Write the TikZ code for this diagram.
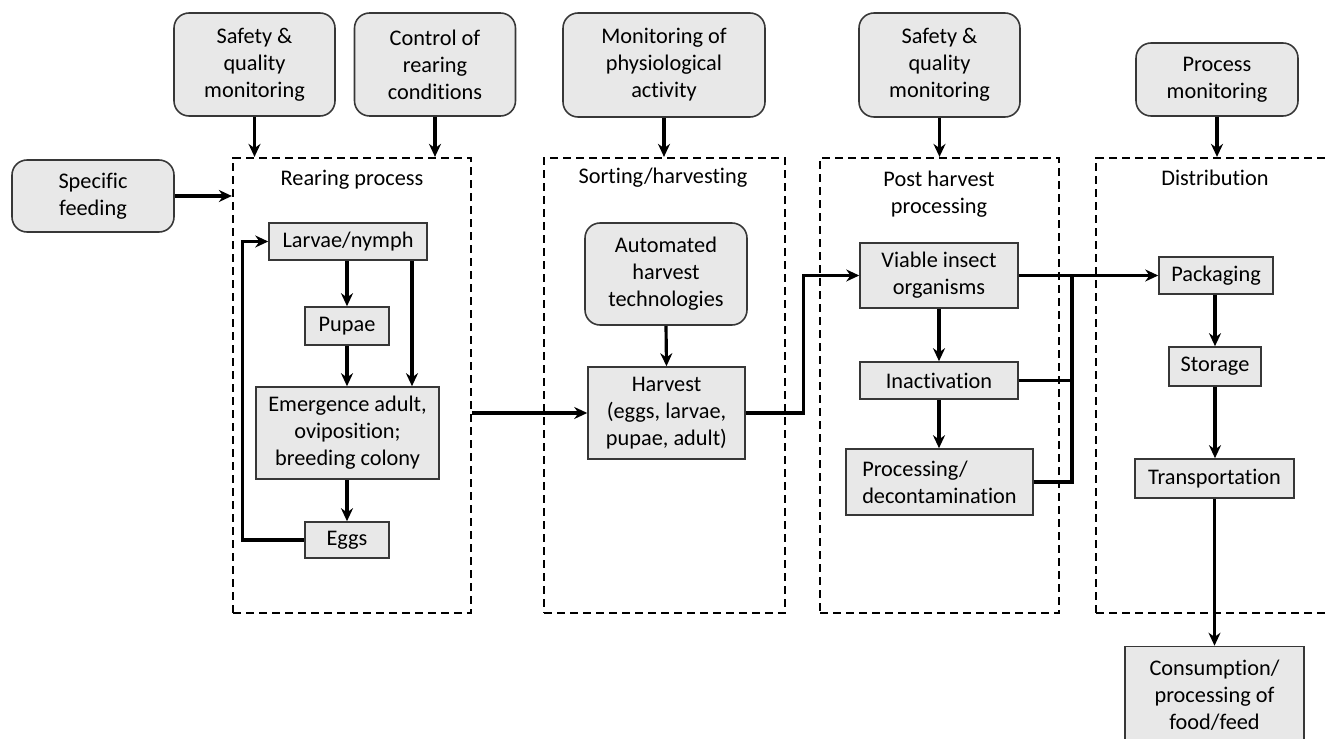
\documentclass[tikz,border=0pt]{standalone}
\usepackage{fontspec}
\setmainfont{Carlito}[Ligatures=NoCommon]
\usepackage{tikz}
\usetikzlibrary{arrows.meta, positioning}
\tikzset{>={Stealth[length=2.6mm,width=2.4mm]}}
\definecolor{boxfill}{RGB}{232,232,232}
\definecolor{boxline}{RGB}{55,55,55}
\tikzset{
	monbox/.style={draw=boxline, fill=boxfill, rounded corners=0.3cm, align=center, inner sep=0pt, line width=0.9pt},
	stepbox/.style={draw=boxline, fill=boxfill, align=center, inner sep=0pt, line width=0.9pt},
	phase/.style={draw, dash pattern=on 0.16cm off 0.1cm, line width=1.3pt, inner sep=0pt},
	flow/.style={->, line width=1.8pt},
}

\begin{document}
\begin{tikzpicture}[x=0.02cm, y=-0.02cm, font=\fontsize{12.7}{15.4}\selectfont]
					\useasboundingbox (0,0) rectangle (1326,739);
					% phases
					\node[phase, minimum width=4.76cm, minimum height=9.1cm] (rear) at (352,385.5) {};
					\node[phase, minimum width=4.82cm, minimum height=9.1cm] (sort) at (664.5,385.5) {};
					\node[phase, minimum width=4.78cm, minimum height=9.1cm] (post) at (939.5,385.5) {};
					\node[phase, minimum width=5.28cm, minimum height=9.1cm] (dist) at (1228,385.5) {};
					\node (rearlbl) at (352,180) {Rearing process};
					\node (sortlbl) at (663,178) {Sorting/harvesting};
					\node[align=center] (postlbl) at (939,194) {Post harvest\\processing};
					\node (distlbl) at (1215,178) {Distribution};
					% monitoring boxes
					\node[monbox, minimum width=3.22cm, minimum height=2.06cm] (sqma) at (254.5,64.5) {Safety \&\\quality\\monitoring};
					\node[monbox, minimum width=3.22cm, minimum height=2.06cm] (crc) at (435,64.5) {Control of\\rearing\\conditions};
					\node[monbox, minimum width=4.04cm, minimum height=2.08cm] (physio) at (664,65) {Monitoring of\\physiological\\activity};
					\node[monbox, minimum width=3.22cm, minimum height=2.08cm] (sqmb) at (939.5,65) {Safety \&\\quality\\monitoring};
					\node[monbox, minimum width=3.24cm, minimum height=1.46cm] (pmon) at (1217,79.5) {Process\\monitoring};
					\node[monbox, minimum width=3.24cm, minimum height=1.44cm] (feed) at (93,196) {Specific\\feeding};
					% rearing
					\node[stepbox, minimum width=3.16cm, minimum height=0.74cm] (larvae) at (348,241.5) {Larvae/nymph};
					\node[stepbox, minimum width=1.68cm, minimum height=0.76cm] (pupae) at (347,326) {Pupae};
					\node[stepbox, minimum width=3.66cm, minimum height=1.84cm] (emerg) at (347.5,433) {Emergence adult,\\oviposition;\\breeding colony};
					\node[stepbox, minimum width=1.68cm, minimum height=0.72cm] (eggs) at (347,540) {Eggs};
					% sorting
					\node[monbox, minimum width=3.24cm, minimum height=2.04cm] (auto) at (666,274) {Automated\\harvest\\technologies};
					\node[stepbox, minimum width=3.14cm, minimum height=1.84cm] (harvest) at (666.5,413) {Harvest\\(eggs, larvae,\\pupae, adult)};
					% post harvest
					\node[stepbox, minimum width=3.16cm, minimum height=1.3cm] (viable) at (939,275.5) {Viable insect\\organisms};
					\node[stepbox, minimum width=3.16cm, minimum height=0.74cm] (inact) at (939,380.5) {Inactivation};
					\node[stepbox, minimum width=3.74cm, minimum height=1.32cm, align=left] (proc) at (939.5,482) {Processing/\\decontamination};
					% distribution
					\node[stepbox, minimum width=2.28cm, minimum height=0.74cm] (pack) at (1216,275.5) {Packaging};
					\node[stepbox, minimum width=1.84cm, minimum height=0.78cm] (stor) at (1215,366.5) {Storage};
					\node[stepbox, minimum width=3.18cm, minimum height=0.78cm] (trans) at (1214.5,478.5) {Transportation};
					\node[stepbox, minimum width=3.58cm, minimum height=1.94cm] (cons) at (1214.5,695) {Consumption/\\processing of\\food/feed};
					% connectors
					\draw[flow] (sqma.south) -- (sqma.south |- rear.north);
					\draw[flow] (crc.south) -- (crc.south |- rear.north);
					\draw[flow] (physio.south) -- (physio.south |- sort.north);
					\draw[flow] (sqmb.south) -- (sqmb.south |- post.north);
					\draw[flow] (pmon.south) -- (pmon.south |- dist.north);
					\draw[flow] (feed.east) -- (feed.east -| rear.west);
					\draw[flow] (larvae.south -| pupae.north) -- (pupae.north);
					\draw[flow] (pupae.south) -- (pupae.south |- emerg.north);
					\draw[flow] ([xshift=1.28cm]larvae.south) -- ([xshift=1.28cm]larvae.south |- emerg.north);
					\draw[flow] (emerg.south -| eggs.north) -- (eggs.north);
					\draw[flow] (eggs.west) -- ++(-62,0) |- (larvae.west);
					\draw[flow] (rear.east |- harvest.west) -- (harvest.west);
					\draw[flow] (auto.south) -- (harvest.north);
					\draw[flow] (harvest.east) -- ++(58,0) |- (viable.west);
					\draw[flow] (viable.south) -- (inact.north);
					\draw[flow] (inact.south) -- (inact.south |- proc.north);
					\coordinate (join) at (1072,275.5);
					\draw[flow] (viable.east) -- (pack.west);
					\draw[line width=1.8pt] (inact.east) -- (inact.east -| join);
					\draw[line width=1.8pt] (proc.east) -| (join);
					\draw[flow] (pack.south -| stor.north) -- (stor.north);
					\draw[flow] (stor.south) -- (stor.south |- trans.north);
					\draw[flow] (trans.south) -- (trans.south |- cons.north);
				\end{tikzpicture}
\end{document}
